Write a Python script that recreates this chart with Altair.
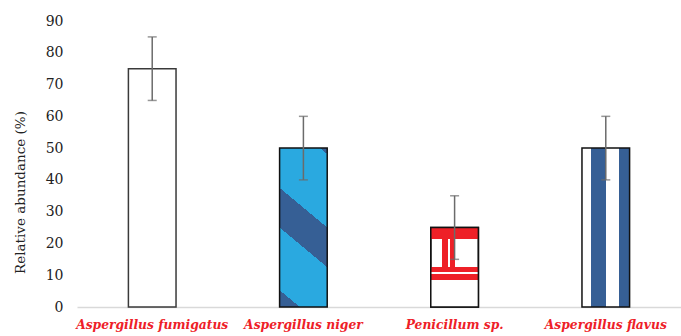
import altair as alt
import pandas as pd

categories = ["Aspergillus fumigatus", "Aspergillus niger", "Penicillum sp.", "Aspergillus flavus"]
values = [75, 50, 25, 50]
errors = [10, 10, 10, 10]

df = pd.DataFrame({"cat": categories, "val": values, "err": errors})
df["lo"] = df["val"] - df["err"]
df["hi"] = df["val"] + df["err"]

SERIF = "DejaVu Serif"
LIGHT = "#2aa9e0"
DARK = "#365f95"
RED = "#ee2027"

x_axis = alt.Axis(title=None, labelAngle=0, ticks=False, domainColor="#d9d9d9",
                  domainWidth=1.5, labelColor=RED, labelFont=SERIF,
                  labelFontStyle="italic", labelFontWeight="bold", labelFontSize=12.3,
                  labelPadding=11)
x_scale = alt.Scale(paddingInner=0.685, paddingOuter=0.34)
y_axis = alt.Axis(title="Relative abundance (%)", values=list(range(0, 91, 10)),
                  grid=False, ticks=False, domain=False, labelFont=SERIF,
                  labelFontSize=14, labelColor="#222222", labelPadding=14,
                  labelOverlap=False, labelFlush=False,
                  titleFont=SERIF, titleFontSize=13.5, titleFontWeight="normal",
                  titleColor="#222222", titleAngle=270, titleX=-57, titleY=171,
                  titleAlign="center", titleBaseline="middle")
y_scale = alt.Scale(domain=[0, 90], nice=False)

x_enc = alt.X("cat:N", sort=categories, scale=x_scale, axis=x_axis)

base = alt.Chart(df)


def bar(cat, fill, stroke="#111111"):
    return base.transform_filter(alt.datum.cat == cat).mark_bar(
        fill=fill, stroke=stroke, strokeWidth=1.5
    ).encode(x=x_enc, y=alt.Y("val:Q", scale=y_scale, axis=y_axis))


def stops(pairs):
    return [alt.GradientStop(color=c, offset=o) for c, o in pairs]


niger_grad = alt.LinearGradient(
    gradient="linear", x1=0.0588, y1=-0.235, x2=-0.235, y2=0.941,
    stops=stops([(DARK, 0), (DARK, 0.03), (LIGHT, 0.03), (LIGHT, 0.40), (DARK, 0.40),
                 (DARK, 0.60), (LIGHT, 0.60), (LIGHT, 0.915), (DARK, 0.915), (DARK, 1)]))

flavus_grad = alt.LinearGradient(
    gradient="linear", x1=0, y1=0, x2=1, y2=0,
    stops=stops([("#ffffff", 0), ("#ffffff", 0.195), (DARK, 0.195), (DARK, 0.51),
                 ("#ffffff", 0.51), ("#ffffff", 0.78), (DARK, 0.78), (DARK, 1)]))

pen_under = alt.LinearGradient(
    gradient="linear", x1=0, y1=0, x2=1, y2=0,
    stops=stops([("#ffffff", 0), ("#ffffff", 0.24), (RED, 0.24), (RED, 0.37),
                 ("#ffffff", 0.37), ("#ffffff", 0.395), (RED, 0.395), (RED, 0.51),
                 ("#ffffff", 0.51), ("#ffffff", 1)]))

pen_over = alt.LinearGradient(
    gradient="linear", x1=0, y1=0, x2=0, y2=1,
    stops=stops([(RED, 0), (RED, 0.147), ("rgba(255,255,255,0)", 0.147),
                 ("rgba(255,255,255,0)", 0.497), (RED, 0.497), (RED, 0.56),
                 ("#ffffff", 0.56), ("#ffffff", 0.58), (RED, 0.58), (RED, 0.662),
                 ("#ffffff", 0.662), ("#ffffff", 1)]))

b1 = bar(categories[0], "#ffffff", "#3a3a3a")
b2 = bar(categories[1], niger_grad)
b3a = bar(categories[2], pen_under)
b3b = bar(categories[2], pen_over)
b4 = bar(categories[3], flavus_grad)

err = base.mark_rule(color="#6b6b6b", strokeWidth=1.5).encode(
    x=x_enc, y=alt.Y("lo:Q", scale=y_scale, axis=y_axis), y2="hi:Q")
cap_lo = base.mark_tick(color="#6b6b6b", thickness=1.5, size=9, orient="horizontal").encode(
    x=x_enc, y=alt.Y("lo:Q", scale=y_scale, axis=y_axis))
cap_hi = base.mark_tick(color="#6b6b6b", thickness=1.5, size=9, orient="horizontal").encode(
    x=x_enc, y=alt.Y("hi:Q", scale=y_scale, axis=y_axis))

chart = alt.layer(b1, b2, b3a, b3b, b4, err, cap_lo, cap_hi).properties(
    width=604, height=286,
    autosize=alt.AutoSizeParams(type="none"),
    padding={"left": 77, "top": 21, "right": 0, "bottom": 29},
    background="#ffffff",
).configure_view(stroke=None)

chart.save("out.html", embed_options={"renderer": "svg", "actions": False})
